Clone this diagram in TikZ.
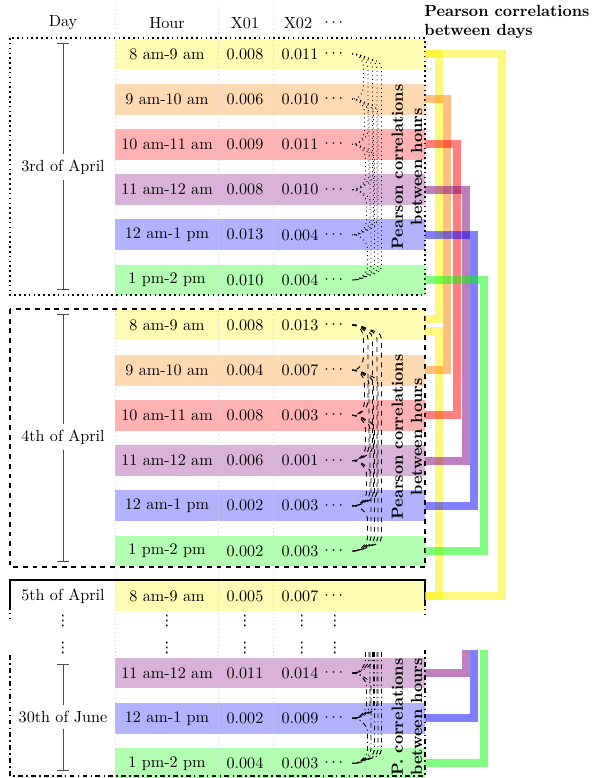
\documentclass[tikz,border=0pt]{standalone}
\usepackage{amsmath}
\usepackage{fontspec}
\newfontfamily\dvsans{DejaVu Sans}
\usetikzlibrary{calc, arrows.meta}

\begin{document}
\begin{tikzpicture}[x=0.62pt, y=-0.62pt,
    band/.style={minimum width=192.2pt, minimum height=19.2pt, inner sep=0pt},
    vdot/.style={inner sep=0pt, font=\dvsans\small},
    daybar/.style={black!70, -{Bar[width=7pt]}},
    daycorr/.style={line width=5pt, opacity=0.5},
    hourcorr/.style={line width=0.6pt, rounded corners=3pt},
    ptitle/.style={font=\bfseries, align=center, rotate=90}]
  \useasboundingbox (0,0) rectangle (592,778);

  % header
  \node (hday) at (63,23) {Day};
  \node (hhour) at (167,23) {Hour};
  \node (hxa) at (245,23) {X01};
  \node (hxb) at (298,23) {X02};
  \node (hdt) at (335,23) {$\cdots$};
  \node[font=\bfseries, align=left, anchor=north west, inner sep=0pt] (pdays) at (424,5)
    {Pearson correlations\\between days};

  % 3rd of April
  \foreach \k/\hr/\c/\a/\b in {1/8 am-9 am/yellow/0.008/0.011,
      2/9 am-10 am/orange/0.006/0.010, 3/10 am-11 am/red/0.009/0.011,
      4/11 am-12 am/violet/0.008/0.010, 5/12 am-1 pm/blue/0.013/0.004,
      6/1 pm-2 pm/green/0.010/0.004} {
    \pgfmathsetmacro\y{54+45.2*(\k-1)}
    \node[band, fill=\c!30] (b1\k) at (270,\y) {};
    \node (h1\k) at (167,\y) {\hr};
    \node (xa1\k) at (245,\y) {\a};
    \node (xb1\k) at (300,\y) {\b};
    \node (dt1\k) at (335,\y) {$\cdots$};
    \coordinate (e1\k) at (352,\y);
  }

  % 4th of April
  \foreach \k/\hr/\c/\a/\b in {1/8 am-9 am/yellow/0.008/0.013,
      2/9 am-10 am/orange/0.004/0.007, 3/10 am-11 am/red/0.008/0.003,
      4/11 am-12 am/violet/0.006/0.001, 5/12 am-1 pm/blue/0.002/0.003,
      6/1 pm-2 pm/green/0.002/0.003} {
    \pgfmathsetmacro\y{325+45.2*(\k-1)}
    \node[band, fill=\c!30] (b2\k) at (270,\y) {};
    \node (h2\k) at (167,\y) {\hr};
    \node (xa2\k) at (245,\y) {\a};
    \node (xb2\k) at (300,\y) {\b};
    \node (dt2\k) at (335,\y) {$\cdots$};
    \coordinate (e2\k) at (352,\y);
  }

  % 5th of April
  \node[band, fill=yellow!30] (b31) at (270,596) {};
  \node (h31) at (167,596) {8 am-9 am};
  \node (xa31) at (245,596) {0.005};
  \node (xb31) at (300,596) {0.007};
  \node (dt31) at (335,596) {$\cdots$};
  \foreach \x in {63,167,245,302,335} {
    \node[vdot] (vd\x a) at (\x,621) {⋮};
    \node[vdot] (vd\x b) at (\x,648) {⋮};
  }

  % 30th of June
  \foreach \k/\hr/\c/\a/\b in {4/11 am-12 am/violet/0.011/0.014,
      5/12 am-1 pm/blue/0.002/0.009, 6/1 pm-2 pm/green/0.004/0.003} {
    \pgfmathsetmacro\y{537.4+45.2*(\k-1)}
    \node[band, fill=\c!30] (b4\k) at (270,\y) {};
    \node (h4\k) at (167,\y) {\hr};
    \node (xa4\k) at (245,\y) {\a};
    \node (xb4\k) at (300,\y) {\b};
    \node (dt4\k) at (335,\y) {$\cdots$};
    \coordinate (e4\k) at (352,\y);
  }

  % column rules
  \foreach \x in {115,218,273}
    \draw[gray!35, dotted] (\x,5) -- (\x,778);

  % days
  \foreach \d/\y/\t/\bt/\lab in {1/167/43/290/3rd of April,
      2/437/314/562/4th of April, 4/717/664/771/30th of June} {
    \node (day\d) at (63,\y) {\lab};
    \coordinate (day\d t) at (63,\t);
    \coordinate (day\d b) at (63,\bt);
    \draw[daybar] (day\d.north) -- (day\d t);
    \draw[daybar] (day\d.south) -- (day\d b);
  }
  \node (day3) at (63,596) {5th of April};

  % frames of the days
  \draw[line width=1pt, dotted] (10,38) rectangle (425,295);
  \draw[line width=1pt, dashed] (10,309) rectangle (425,567);
  \draw[line width=0.8pt] (10,608) -- (10,580) -- (425,580) -- (425,604);
  \draw[line width=1pt, dotted] (10,608) -- (10,620);
  \draw[line width=1pt, dotted] (425,604) -- (425,618);
  \draw[line width=1pt, dash dot] (10,655) -- (10,776) -- (425,776) -- (425,650);

  % correlations between hours
  \foreach \d/\pat in {1/dotted, 2/dashed} {
    \foreach \i in {1,...,5} {
      \pgfmathtruncatemacro\ii{\i+1}
      \foreach \j in {\ii,...,6} {
        \pgfmathsetmacro\xv{6+4.5*(\j-\i)+\i}
        \draw[hourcorr, \pat] (e\d\i) -- ++(6,0) -- ($(e\d\i)+(\xv,9)$)
          -- ($(e\d\j)+(\xv,-9)$) -- ($(e\d\j)+(6,0)$) -- (e\d\j);
      }
    }
  }
  \coordinate (top4) at (352,652);
  \foreach \k in {4,5,6} {
    \foreach \i in {1,2,3} {
      \pgfmathsetmacro\xv{6+4.5*(\k-\i)+\i}
      \draw[hourcorr, dash dot] ($(top4)+(\xv,0)$) -- ($(e4\k)+(\xv,-9)$)
        -- ($(e4\k)+(6,0)$) -- (e4\k);
    }
  }
  \foreach \i/\j in {4/5, 4/6, 5/6} {
    \pgfmathsetmacro\xv{6+4.5*(\j-\i)+\i}
    \draw[hourcorr, dash dot] (e4\i) -- ++(6,0) -- ($(e4\i)+(\xv,9)$)
      -- ($(e4\j)+(\xv,-9)$) -- ($(e4\j)+(6,0)$) -- (e4\j);
  }

  \node[ptitle] (ph1) at (407,167) {Pearson correlations\\between hours};
  \node[ptitle] (ph2) at (407,437) {Pearson correlations\\between hours};
  \node[ptitle] (ph4) at (407,717) {P. correlations\\between hours};

  % correlations between days
  \draw[daycorr, yellow] (b11.east) -- ++(77,0) |- (b31.east);
  \draw[daycorr, yellow] (b11.east) -- ++(14,0) |- ($(b21.east)+(0,-6)$);
  \draw[daycorr, yellow] ($(b21.east)+(0,6)$) -- ++(14,0) |- (b31.east);
  \foreach \k/\c/\w in {2/orange/22, 3/red/32, 4/violet/41, 5/blue/49, 6/green/59}
    \draw[daycorr, \c] (b1\k.east) -- ++(\w,0) |- (b2\k.east);
  \foreach \k/\x in {4/466, 5/474, 6/484}
    \coordinate (t4\k) at (\x,650);
  \foreach \k/\c in {4/violet, 5/blue, 6/green}
    \draw[daycorr, \c] (t4\k) |- (b4\k.east);

\end{tikzpicture}
\end{document}
